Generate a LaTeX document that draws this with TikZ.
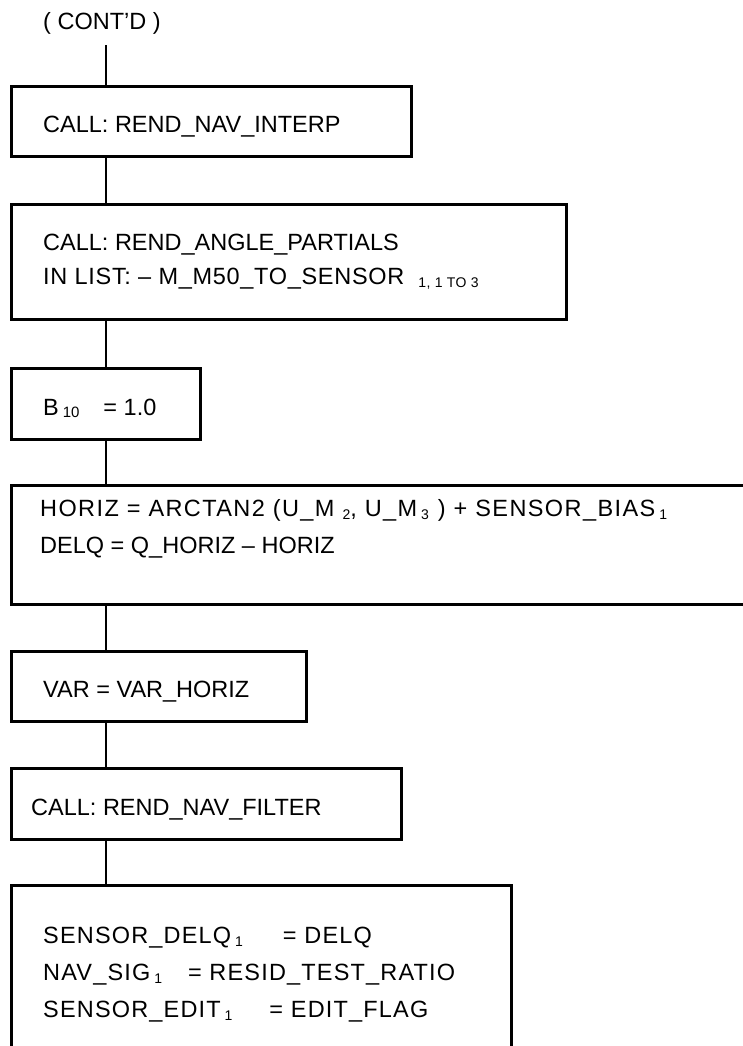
\documentclass[tikz,border=0pt]{standalone}
\usepackage{fontspec}
\setmainfont{Liberation Sans}
\newfontfamily\lighttrack[LetterSpace=3]{Liberation Sans}
\newfontfamily\trackfont[LetterSpace=5]{Liberation Sans}
\newfontfamily\widetrack[LetterSpace=6]{Liberation Sans}
\usetikzlibrary{positioning,calc}
\newcommand{\sub}[1]{\raisebox{-3pt}{\fontsize{14}{14}\selectfont #1}}

\tikzset{
  flowbox/.style={draw, line width=2.6pt, inner sep=0pt, anchor=north west},
  flowtext/.style={anchor=base west, inner sep=0pt, font=\fontsize{23.5}{28}\selectfont},
  flowline/.style={line width=1.8pt},
}

\begin{document}
\begin{tikzpicture}[x=1pt,y=-1pt]
    \useasboundingbox (0,0) rectangle (743,1046);
    \clip (0,0) rectangle (743,1046);

    % vertical spine of the chart
    \coordinate (spine) at (106,0);

    % entry label
    \node[flowtext] (cont) at (43,30) {( CONT'D )};

    % boxes
    \node[flowbox, minimum width=400pt, minimum height=70pt] (interp) at (10,85) {};
    \node[flowbox, minimum width=555pt, minimum height=115pt] (partials) at (10,203) {};
    \node[flowbox, minimum width=189pt, minimum height=71pt] (bias) at (10,367) {};
    \node[flowbox, minimum width=760pt, minimum height=119pt] (horiz) at (10,484) {};
    \node[flowbox, minimum width=295pt, minimum height=70pt] (variance) at (10,650) {};
    \node[flowbox, minimum width=390pt, minimum height=71pt] (filter) at (10,767) {};
    \node[flowbox, minimum width=500pt, minimum height=180pt] (store) at (10,884) {};

    % box texts
    \node[flowtext] (interp text) at (43,132) {CALL: REND\_NAV\_INTERP};
    \node[flowtext] (partials text1) at (43,250) {CALL: REND\_ANGLE\_PARTIALS};
    \node[flowtext] (partials text2) at (43,284) {\lighttrack IN LIST: \textendash{} M\_M50\_TO\_SENSOR\hspace{14pt}\sub{1, 1 TO 3}};
    \node[flowtext] (bias text) at (43,415) {B\,{\fontsize{15}{15}\selectfont\raisebox{-2pt}{10}}\hspace{24pt}= 1.0};
    \node[flowtext] (horiz text1) at (40,516) {\widetrack HORIZ = ARCTAN2 (U\_M\hspace{8pt}\sub{2}, U\_M\,\sub{3}\hspace{9pt}) + SENSOR\_BIAS\,\sub{1}};
    \node[flowtext] (horiz text2) at (40,553) {DELQ = Q\_HORIZ \textendash{} HORIZ};
    \node[flowtext] (variance text) at (43,697) {VAR = VAR\_HORIZ};
    \node[flowtext] (filter text) at (31,815) {CALL: REND\_NAV\_FILTER};
    \node[flowtext] (store text1) at (43,943) {\trackfont SENSOR\_DELQ\,\sub{1}\hspace{40pt}= DELQ};
    \node[flowtext] (store text2) at (43,980) {\trackfont NAV\_SIG\,\sub{1}\hspace{26pt}= RESID\_TEST\_RATIO};
    \node[flowtext] (store text3) at (43,1017) {\trackfont SENSOR\_EDIT\,\sub{1}\hspace{37pt}= EDIT\_FLAG};

    % connectors
    \draw[flowline, shorten <=10pt] (cont.south -| spine) -- (interp.north -| spine);
    \draw[flowline] (interp.south -| spine) -- (partials.north -| spine);
    \draw[flowline] (partials.south -| spine) -- (bias.north -| spine);
    \draw[flowline] (bias.south -| spine) -- (horiz.north -| spine);
    \draw[flowline] (horiz.south -| spine) -- (variance.north -| spine);
    \draw[flowline] (variance.south -| spine) -- (filter.north -| spine);
    \draw[flowline] (filter.south -| spine) -- (store.north -| spine);
\end{tikzpicture}
\end{document}
